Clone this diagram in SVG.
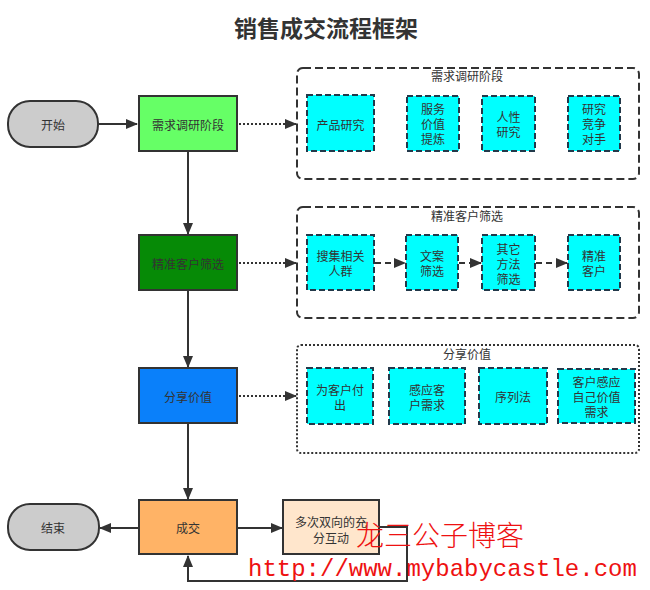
<svg xmlns="http://www.w3.org/2000/svg" width="650" height="590" viewBox="0 0 650 590">
<defs>
<style>
text{font-family:"Noto Sans CJK SC","Liberation Sans",sans-serif;fill:#333;font-size:12px;text-anchor:middle;dominant-baseline:central}
.title{font-size:23px;font-weight:bold;fill:#333}
.main{stroke:#333;stroke-width:2}
.pill{fill:#cccccc;stroke:#333;stroke-width:2}
.grp{fill:none;stroke:#333;stroke-width:2;stroke-dasharray:8 4}
.grpdot{fill:none;stroke:#333;stroke-width:2;stroke-dasharray:2 2}
.inner{fill:#00ffff;stroke:#22394a;stroke-width:2;stroke-dasharray:6 3}
.ln{fill:none;stroke:#333;stroke-width:2}
.dot{fill:none;stroke:#333;stroke-width:2;stroke-dasharray:2 2}
.dash{fill:none;stroke:#333;stroke-width:2;stroke-dasharray:6 4}
.wm{fill:#ee1111;text-anchor:start;dominant-baseline:auto}
</style>
<marker id="ah" markerWidth="12" markerHeight="10" refX="11" refY="5" orient="auto" markerUnits="userSpaceOnUse">
<path d="M0,0 L12,5 L0,10 Z" fill="#333"/>
</marker>
</defs>
<rect width="650" height="590" fill="#ffffff"/>
<text class="title" x="326" y="27">销售成交流程框架</text>

<g id="connectors">
<path class="ln" d="M98,124 H137" marker-end="url(#ah)"/>
<path class="dot" d="M239,124 H296" marker-end="url(#ah)"/>
<path class="dot" d="M239,263 H296" marker-end="url(#ah)"/>
<path class="dot" d="M239,396 H296" marker-end="url(#ah)"/>
<path class="ln" d="M188,152 V234" marker-end="url(#ah)"/>
<path class="ln" d="M188,291 V367" marker-end="url(#ah)"/>
<path class="ln" d="M188,424 V499" marker-end="url(#ah)"/>
<path class="ln" d="M138,528 H100" marker-end="url(#ah)"/>
<path class="ln" d="M238,528 H282" marker-end="url(#ah)"/>
<path class="ln" d="M380,527 H407 V581 H188 V556" marker-end="url(#ah)"/>
<path class="dash" d="M375,263 H405" marker-end="url(#ah)"/>
<path class="dash" d="M459,263 H481" marker-end="url(#ah)"/>
<path class="dash" d="M536,263 H567" marker-end="url(#ah)"/>
</g>

<g id="start"><rect class="pill" x="8" y="101" width="90" height="46" rx="22"/><text x="53" y="124">开始</text></g>
<g id="end"><rect class="pill" x="8" y="504" width="91" height="46" rx="22"/><text x="53" y="527">结束</text></g>

<g id="stage1"><rect class="main" x="139" y="96" width="98" height="55" fill="#66ff66"/><text x="188" y="124">需求调研阶段</text></g>
<g id="stage2"><rect class="main" x="139" y="235" width="98" height="55" fill="#068a06"/><text x="188" y="263">精准客户筛选</text></g>
<g id="stage3"><rect class="main" x="139" y="368" width="98" height="55" fill="#0a80fa"/><text x="188" y="396">分享价值</text></g>
<g id="deal"><rect class="main" x="139" y="500" width="98" height="54" fill="#ffb366"/><text x="188" y="527">成交</text></g>
<g id="interact"><rect class="main" x="283" y="500" width="96" height="54" fill="#ffe6cc"/><text x="331" y="521">多次双向的充<tspan x="331" dy="16">分互动</tspan></text></g>

<g id="group1">
<rect class="grp" x="297" y="68" width="342" height="111" rx="6"/>
<text x="467" y="75">需求调研阶段</text>
</g>
<g id="g1a"><rect class="inner" x="307" y="95" width="67" height="56"/><text x="340.5" y="124">产品研究</text></g>
<g id="g1b"><rect class="inner" x="407" y="96" width="52" height="55"/><text x="433" y="108">服务<tspan x="433" dy="15">价值</tspan><tspan x="433" dy="15">提炼</tspan></text></g>
<g id="g1c"><rect class="inner" x="482" y="96" width="53" height="55"/><text x="508.5" y="116">人性<tspan x="508.5" dy="15">研究</tspan></text></g>
<g id="g1d"><rect class="inner" x="568" y="96" width="52" height="55"/><text x="594" y="108">研究<tspan x="594" dy="15">竞争</tspan><tspan x="594" dy="15">对手</tspan></text></g>

<g id="group2">
<rect class="grp" x="297" y="207" width="342" height="111" rx="6"/>
<text x="467" y="215">精准客户筛选</text>
</g>
<g id="g2a"><rect class="inner" x="307" y="235" width="67" height="55"/><text x="340.5" y="255">搜集相关<tspan x="340.5" dy="15">人群</tspan></text></g>
<g id="g2b"><rect class="inner" x="406" y="235" width="52" height="55"/><text x="432" y="255">文案<tspan x="432" dy="15">筛选</tspan></text></g>
<g id="g2c"><rect class="inner" x="482" y="235" width="53" height="55"/><text x="508.5" y="248">其它<tspan x="508.5" dy="15">方法</tspan><tspan x="508.5" dy="15">筛选</tspan></text></g>
<g id="g2d"><rect class="inner" x="568" y="235" width="52" height="55"/><text x="594" y="255">精准<tspan x="594" dy="15">客户</tspan></text></g>

<g id="group3">
<rect class="grpdot" x="297" y="345" width="342" height="108" rx="4"/>
<text x="467" y="353">分享价值</text>
</g>
<g id="g3a"><rect class="inner" x="307" y="368" width="66" height="56"/><text x="340" y="389">为客户付<tspan x="340" dy="15">出</tspan></text></g>
<g id="g3b"><rect class="inner" x="389" y="368" width="76" height="56"/><text x="427" y="389">感应客<tspan x="427" dy="15">户需求</tspan></text></g>
<g id="g3c"><rect class="inner" x="479" y="368" width="68" height="56"/><text x="513" y="396">序列法</text></g>
<g id="g3d"><rect class="inner" x="558" y="369" width="77" height="54"/><text x="596.5" y="381">客户感应<tspan x="596.5" dy="15">自己价值</tspan><tspan x="596.5" dy="15">需求</tspan></text></g>

<text class="wm" x="356" y="546" style="font-size:28px;font-weight:300">龙三公子博客</text>
<text class="wm" x="248" y="576" style="font-family:'Liberation Mono',monospace;font-size:24px">http://www.mybabycastle.com</text>
</svg>
